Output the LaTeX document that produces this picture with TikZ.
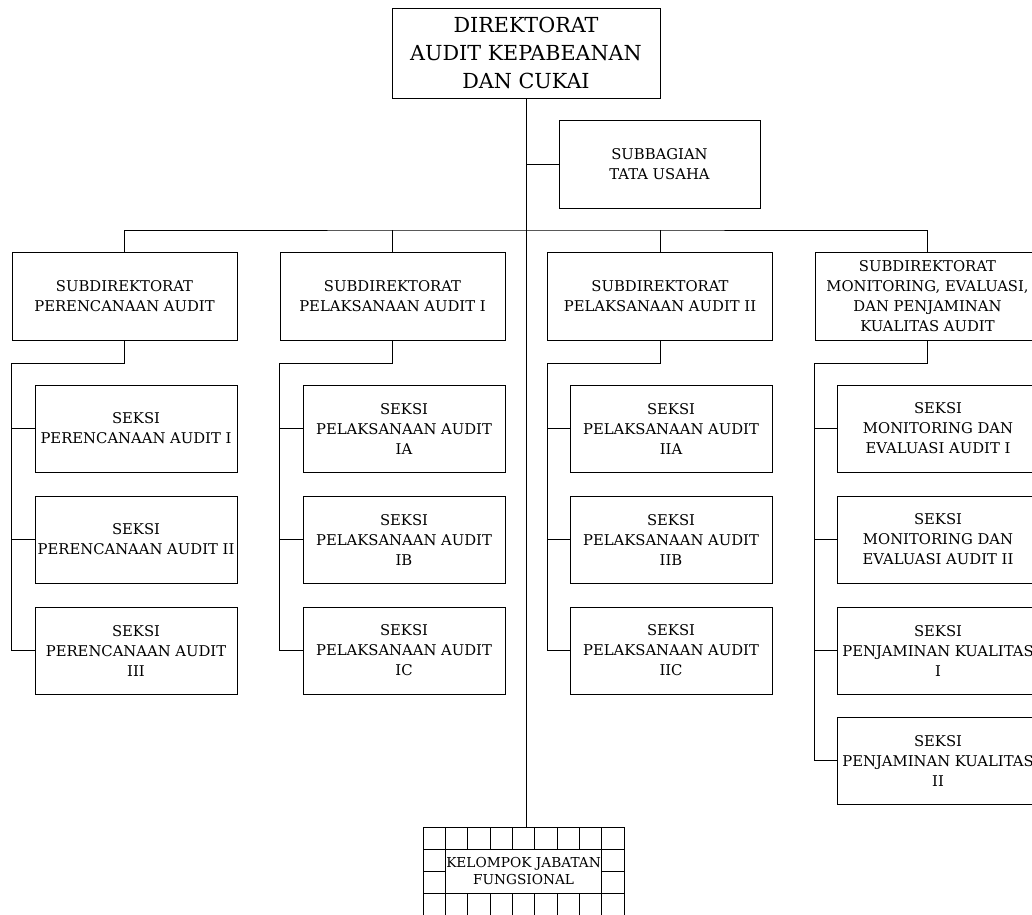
\documentclass[tikz,border=0pt]{standalone}
\usepackage{fontspec}
\setmainfont{DejaVu Serif}
\newcommand\smfnt{\fontsize{14.8}{20}\selectfont}
\newcommand\bgfnt{\fontsize{20.7}{28}\selectfont}
\newcommand\kjfnt{\fontsize{13.7}{17}\selectfont}
\begin{document}
\begin{tikzpicture}[x=1pt,y=-1pt,
  every node/.style={inner sep=0pt, align=center},
  box/.style={draw, line width=1pt, font=\smfnt},
  sdbox/.style={box, minimum width=225, minimum height=88},
  skbox/.style={box, minimum width=202, minimum height=87},
  conn/.style={line width=1pt},
]
\useasboundingbox (0,0) rectangle (1032,914);

% top
\node[box, font=\bgfnt, minimum width=268, minimum height=90] (dir) at (526,53) {DIREKTORAT\\AUDIT KEPABEANAN\\DAN CUKAI};
\node[box, minimum width=201, minimum height=88] (tu) at (659.5,164) {SUBBAGIAN\\TATA USAHA};

% subdirektorat
\node[sdbox] (sd1) at (124.5,296) {SUBDIREKTORAT\\PERENCANAAN AUDIT};
\node[sdbox] (sd2) at (392.5,296) {SUBDIREKTORAT\\PELAKSANAAN AUDIT I};
\node[sdbox] (sd3) at (660,296) {SUBDIREKTORAT\\PELAKSANAAN AUDIT II};
\node[sdbox] (sd4) at (927.5,296) {SUBDIREKTORAT\\MONITORING, EVALUASI,\\DAN PENJAMINAN\\KUALITAS AUDIT};

% seksi column 1
\node[skbox] (s11) at (136,428.5) {SEKSI\\PERENCANAAN AUDIT I};
\node[skbox] (s12) at (136,539.5) {SEKSI\\PERENCANAAN AUDIT II};
\node[skbox] (s13) at (136,650.5) {SEKSI\\PERENCANAAN AUDIT\\III};
% column 2
\node[skbox] (s21) at (404,428.5) {SEKSI\\PELAKSANAAN AUDIT\\IA};
\node[skbox] (s22) at (404,539.5) {SEKSI\\PELAKSANAAN AUDIT\\IB};
\node[skbox] (s23) at (404,650.5) {SEKSI\\PELAKSANAAN AUDIT\\IC};
% column 3
\node[skbox] (s31) at (671,428.5) {SEKSI\\PELAKSANAAN AUDIT\\IIA};
\node[skbox] (s32) at (671,539.5) {SEKSI\\PELAKSANAAN AUDIT\\IIB};
\node[skbox] (s33) at (671,650.5) {SEKSI\\PELAKSANAAN AUDIT\\IIC};
% column 4
\node[skbox] (s41) at (938,428.5) {SEKSI\\MONITORING DAN\\EVALUASI AUDIT I};
\node[skbox] (s42) at (938,539.5) {SEKSI\\MONITORING DAN\\EVALUASI AUDIT II};
\node[skbox] (s43) at (938,650.5) {SEKSI\\PENJAMINAN KUALITAS\\I};
\node[skbox] (s44) at (938,760.5) {SEKSI\\PENJAMINAN KUALITAS\\II};

% kelompok jabatan fungsional
\node[font=\kjfnt, minimum width=201, minimum height=88] (kjf) at (523.5,871) {KELOMPOK JABATAN\\FUNGSIONAL};
\begin{scope}[conn]
  \draw (423,827) rectangle (624,915);
  \draw (423,849) -- (624,849);
  \draw (423,893) -- (624,893);
  \draw (423,871) -- (445.33,871);
  \draw (601.67,871) -- (624,871);
  \draw (445.33,827) -- (445.33,915);
  \draw (601.67,827) -- (601.67,915);
  \foreach \i in {2,...,7} {
    \draw (423+\i*22.333,827) -- (423+\i*22.333,849);
    \draw (423+\i*22.333,893) -- (423+\i*22.333,915);
  }
\end{scope}

% connectors
\coordinate (bar) at (526,230);
\coordinate (lvl) at (0,363);
\draw[conn] (dir.south) -- (dir.south |- kjf.north);
\draw[conn] (tu.west) -- (tu.west -| dir.south);
\draw[conn] (sd1.north) |- (bar) -| (sd4.north);
\draw[conn] (sd2.north) -- (sd2.north |- bar);
\draw[conn] (sd3.north) -- (sd3.north |- bar);

\draw[conn] (sd1.south) -- (sd1.south |- lvl) -- (sd1.west |- lvl) -- (sd1.west |- s13.west) -- (s13.west);
\draw[conn] (s11.west) -- (s11.west -| sd1.west);
\draw[conn] (s12.west) -- (s12.west -| sd1.west);

\draw[conn] (sd2.south) -- (sd2.south |- lvl) -- (sd2.west |- lvl) -- (sd2.west |- s23.west) -- (s23.west);
\draw[conn] (s21.west) -- (s21.west -| sd2.west);
\draw[conn] (s22.west) -- (s22.west -| sd2.west);

\draw[conn] (sd3.south) -- (sd3.south |- lvl) -- (sd3.west |- lvl) -- (sd3.west |- s33.west) -- (s33.west);
\draw[conn] (s31.west) -- (s31.west -| sd3.west);
\draw[conn] (s32.west) -- (s32.west -| sd3.west);

\draw[conn] (sd4.south) -- (sd4.south |- lvl) -- (sd4.west |- lvl) -- (sd4.west |- s44.west) -- (s44.west);
\draw[conn] (s41.west) -- (s41.west -| sd4.west);
\draw[conn] (s42.west) -- (s42.west -| sd4.west);
\draw[conn] (s43.west) -- (s43.west -| sd4.west);
\end{tikzpicture}
\end{document}
